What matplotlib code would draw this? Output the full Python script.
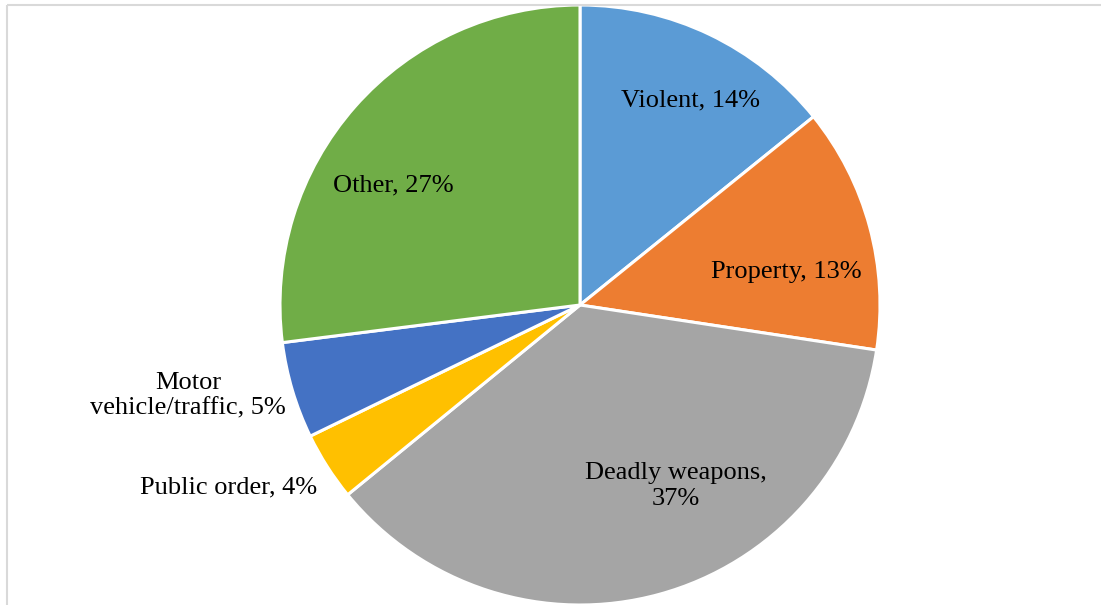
import matplotlib
matplotlib.use('Agg')
from matplotlib import pyplot as plt

plt.rcParams['font.family'] = ['Liberation Serif', 'DejaVu Serif']

# data (share of offences, %)
categories = ['Violent', 'Property', 'Deadly weapons', 'Public order',
              'Motor vehicle/traffic', 'Other']
shares = [14.2, 13.2, 36.7, 3.7, 5.2, 27.0]
colors = ['#5B9BD5', '#ED7D31', '#A5A5A5', '#FFC000', '#4472C4', '#70AD47']

# how each label is broken into lines
label_fmt = ['{name}, {pct}%', '{name}, {pct}%', '{name},\n{pct}%',
             '{name}, {pct}%', 'Motor\nvehicle/traffic, {pct}%', '{name}, {pct}%']
# label centres relative to pie centre, in units of the radius
label_pos = [(0.367, 0.683), (0.687, 0.11), (0.32, -0.603),
             (-0.877, -0.607), (-1.307, -0.303), (-0.623, 0.397)]
label_ha = ['center', 'center', 'center', 'right', 'center', 'center']

W, H = 1101, 605
cx, cy, R = 580, -305, 300

fig = plt.figure(figsize=(W / 100, H / 100), dpi=100)
ax = fig.add_axes([0, 0, 1, 1])

wedges, _ = ax.pie(shares, colors=colors, startangle=90, counterclock=False,
                   center=(cx, cy), radius=R,
                   wedgeprops=dict(edgecolor='white', linewidth=2.2))

total = sum(shares)
for i, name in enumerate(categories):
    pct = round(shares[i] / total * 100)
    txt = label_fmt[i].format(name=name, pct=pct)
    dx, dy = label_pos[i]
    ax.text(cx + dx * R, cy + dy * R, txt, ha=label_ha[i], va='center',
            fontsize=19, linespacing=1.2, color='black')

# light chart-area border (left and top edges visible)
ax.plot([7, 7], [-H, -5], color='#D9D9D9', lw=1.5, solid_capstyle='butt')
ax.plot([7, W], [-5, -5], color='#D9D9D9', lw=1.5, solid_capstyle='butt')

ax.set_xlim(0, W)
ax.set_ylim(-H, 0)
ax.set_aspect('equal')
ax.axis('off')

fig.savefig('out.png', dpi=100)
